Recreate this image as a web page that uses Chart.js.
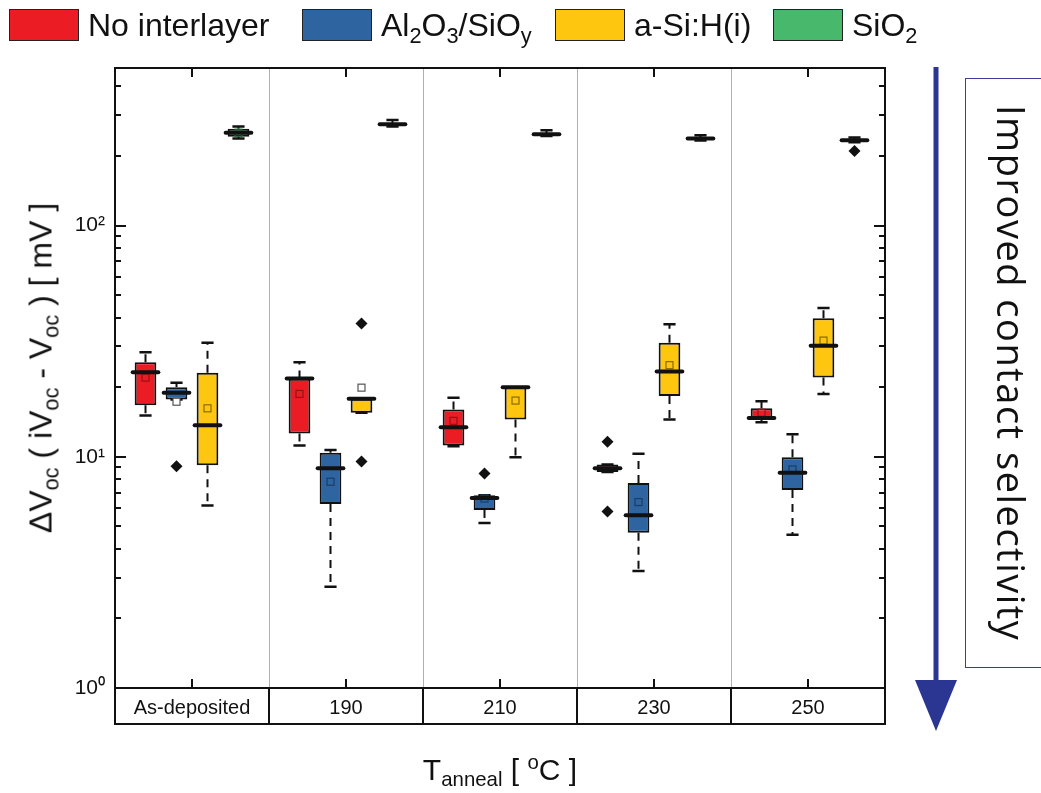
<!DOCTYPE html>
<html>
<head>
<meta charset="utf-8">
<script src="https://cdn.jsdelivr.net/npm/chart.js@4.4.1/dist/chart.umd.min.js"></script>
<style>
  html, body { margin: 0; padding: 0; background: #fff; }
  #wrap { position: relative; width: 1041px; height: 793px; overflow: hidden; font-family: 'Liberation Sans', Arial, sans-serif; color: #111; }
  #chart { position: absolute; left: 0; top: 0; }
  .item { position: absolute; top: 8px; display: flex; align-items: center; font-size: 32px; line-height: 34px; white-space: nowrap; }
  .sw { width: 70px; height: 32px; border: 1.5px solid #222; box-sizing: border-box; margin-right: 9px; flex: none; }
  sub, sup { font-size: 0.68em; line-height: 0; }
  sub { vertical-align: -0.3em; }
  sup { vertical-align: 0.55em; }
  #ytitle { position: absolute; left: 41px; top: 368px; font-size: 32px; white-space: nowrap; transform: translate(-50%, -50%) rotate(-90deg); }
  #xtitle { position: absolute; left: 500px; top: 770px; font-size: 30px; white-space: nowrap; transform: translate(-50%, -50%); }
  #note { position: absolute; left: 965px; top: 78px; width: 76px; height: 590px; box-sizing: border-box; border: 1.5px solid #3b3f9a; border-right: none;
          padding-left: 16px; writing-mode: vertical-rl; display: flex; align-items: center; justify-content: center;
          font-family: 'Open Sans', sans-serif; font-size: 38px; letter-spacing: 1.5px; color: #111; }
  #arrow { position: absolute; left: 0; top: 0; }
</style>
</head>
<body>
<div id="wrap">
  <canvas id="chart" width="1041" height="793"></canvas>
  <div class="item" style="left:9px"><div class="sw" style="background:#ec1c24"></div><span>No interlayer</span></div>
  <div class="item" style="left:302px"><div class="sw" style="background:#2e64a0"></div><span>Al<sub>2</sub>O<sub>3</sub>/SiO<sub>y</sub></span></div>
  <div class="item" style="left:555px"><div class="sw" style="background:#ffc60f"></div><span>a-Si:H(i)</span></div>
  <div class="item" style="left:773px"><div class="sw" style="background:#48b86c"></div><span>SiO<sub>2</sub></span></div>
  <div id="ytitle">&Delta;V<sub>oc</sub> ( iV<sub>oc</sub> - V<sub>oc</sub> ) [ mV ]</div>
  <div id="xtitle">T<sub>anneal</sub> [ <sup>o</sup>C ]</div>
  <svg id="arrow" width="1041" height="793">
    <line x1="936" y1="67" x2="936" y2="690" stroke="#2b3592" stroke-width="5"/>
    <polygon points="915,680 957,680 936,731" fill="#2b3592"/>
  </svg>
  <div id="note">Improved contact selectivity</div>
</div>
<script>
const groups = ['As-deposited', '190', '210', '230', '250'];
const seriesNames = ['No interlayer', 'Al2O3/SiOy', 'a-Si:H(i)', 'SiO2'];
const seriesColors = ['#ec1c24', '#2e64a0', '#ffc60f', '#48b86c'];
const meanColors = ['#9a1016', '#1b3d66', '#8a6a00', '#1f6a38'];

// rows: No interlayer, Al2O3/SiOy, a-Si:H(i), SiO2 ; columns follow groups
const whiskerLow = [
  [15.1, 11.2, 11.1, 8.6, 14.1],
  [17.7, 2.74, 5.17, 3.21, 4.6],
  [6.16, 15.5, 9.96, 14.5, 18.7],
  [238, 268, 244, 233, 229]
];
const q1 = [
  [16.7, 12.6, 11.2, 8.6, 14.6],
  [17.7, 6.24, 5.89, 4.69, 7.19],
  [9.18, 15.5, 14.5, 18.3, 22.0],
  [242, 270, 245, 235, 231]
];
const median = [
  [23.2, 21.8, 13.4, 8.93, 14.7],
  [18.9, 8.93, 6.63, 5.59, 8.53],
  [13.7, 17.8, 20.0, 23.4, 30.2],
  [252, 274, 248, 238, 234]
];
const q3 = [
  [25.6, 21.8, 16.0, 9.25, 16.2],
  [20.0, 10.4, 6.82, 7.71, 9.96],
  [23.1, 17.8, 20.0, 31.1, 39.7],
  [262, 277, 251, 241, 236]
];
const whiskerHigh = [
  [28.3, 25.6, 18.0, 9.25, 17.4],
  [20.9, 10.7, 6.82, 10.3, 12.5],
  [31.1, 17.8, 20.0, 37.4, 44.0],
  [268, 286, 258, 246, 240]
];
const means = [
  [22.0, 18.7, 14.3, null, 15.5],
  [17.3, 7.8, 6.6, 6.37, 8.81],
  [16.2, 19.9, 17.5, 24.9, 31.8],
  [252, null, null, null, null]
];
const outliers = [
  [[], [], [], [11.6, 5.8], []],
  [[9.1], [], [8.47], [], []],
  [[], [37.7, 9.53], [], [], []],
  [[], [], [], [], [210]]
];
const yLabels = { 1: '10\u2070', 10: '10\u00b9', 100: '10\u00b2' };

Chart.defaults.font.family = "'Liberation Sans', Arial, sans-serif";
Chart.defaults.color = '#111';

const boxPlugin = {
  id: 'boxParts',
  afterDatasetsDraw(chart) {
    const ctx = chart.ctx;
    const y = chart.scales.y;
    ctx.save();
    chart.data.datasets.forEach((ds, i) => {
      const meta = chart.getDatasetMeta(i);
      meta.data.forEach((bar, j) => {
        const x = bar.x;
        const w = bar.width;
        const yq1 = y.getPixelForValue(q1[i][j]);
        const yq3 = y.getPixelForValue(q3[i][j]);
        const ylo = y.getPixelForValue(whiskerLow[i][j]);
        const yhi = y.getPixelForValue(whiskerHigh[i][j]);
        // whiskers
        ctx.strokeStyle = '#111';
        ctx.lineWidth = 2;
        ctx.setLineDash([8, 6]);
        ctx.beginPath();
        ctx.moveTo(x, yq1); ctx.lineTo(x, ylo);
        ctx.moveTo(x, yq3); ctx.lineTo(x, yhi);
        ctx.stroke();
        ctx.setLineDash([]);
        ctx.lineWidth = 2.5;
        ctx.beginPath();
        ctx.moveTo(x - w * 0.28, ylo); ctx.lineTo(x + w * 0.28, ylo);
        ctx.moveTo(x - w * 0.28, yhi); ctx.lineTo(x + w * 0.28, yhi);
        ctx.stroke();
        // mean
        if (means[i][j] !== null) {
          const ym = y.getPixelForValue(means[i][j]);
          const inside = means[i][j] >= q1[i][j] && means[i][j] <= q3[i][j];
          ctx.lineWidth = 1.2;
          if (inside) {
            ctx.strokeStyle = meanColors[i];
            ctx.strokeRect(x - 3.5, ym - 3.5, 7, 7);
          } else {
            ctx.fillStyle = '#fff';
            ctx.strokeStyle = '#555';
            ctx.fillRect(x - 3.5, ym - 3.5, 7, 7);
            ctx.strokeRect(x - 3.5, ym - 3.5, 7, 7);
          }
        }
        // median
        const ymed = y.getPixelForValue(median[i][j]);
        ctx.strokeStyle = '#111';
        ctx.lineWidth = 4;
        ctx.lineCap = 'round';
        ctx.beginPath();
        ctx.moveTo(x - w / 2 - 2, ymed); ctx.lineTo(x + w / 2 + 2, ymed);
        ctx.stroke();
        ctx.lineCap = 'butt';
        // outliers
        ctx.fillStyle = '#111';
        outliers[i][j].forEach(v => {
          const yo = y.getPixelForValue(v);
          ctx.beginPath();
          ctx.moveTo(x, yo - 6); ctx.lineTo(x + 6, yo); ctx.lineTo(x, yo + 6); ctx.lineTo(x - 6, yo);
          ctx.closePath();
          ctx.fill();
        });
      });
    });
    ctx.restore();
  }
};

const framePlugin = {
  id: 'frame',
  beforeDatasetsDraw(chart) {
    const ctx = chart.ctx;
    const a = chart.chartArea;
    const x = chart.scales.x;
    ctx.save();
    ctx.strokeStyle = '#b0b0b0';
    ctx.lineWidth = 1;
    for (let k = 1; k < groups.length; k++) {
      const xd = Math.round((x.getPixelForValue(k - 1) + x.getPixelForValue(k)) / 2) + 0.5;
      ctx.beginPath(); ctx.moveTo(xd, a.top); ctx.lineTo(xd, a.bottom); ctx.stroke();
    }
    ctx.restore();
  },
  afterDraw(chart) {
    const ctx = chart.ctx;
    const a = chart.chartArea;
    const x = chart.scales.x;
    const y = chart.scales.y;
    const stripBottom = a.bottom + 36;
    ctx.save();
    ctx.strokeStyle = '#111';
    ctx.lineWidth = 2;
    ctx.strokeRect(a.left, a.top, a.right - a.left, stripBottom - a.top);
    ctx.beginPath();
    ctx.moveTo(a.left, a.bottom); ctx.lineTo(a.right, a.bottom);
    for (let k = 1; k < groups.length; k++) {
      const xd = Math.round((x.getPixelForValue(k - 1) + x.getPixelForValue(k)) / 2);
      ctx.moveTo(xd, a.bottom); ctx.lineTo(xd, stripBottom);
    }
    // group ticks on top and bottom edges
    for (let k = 0; k < groups.length; k++) {
      const xc = Math.round(x.getPixelForValue(k));
      ctx.moveTo(xc, a.top); ctx.lineTo(xc, a.top + 9);
      ctx.moveTo(xc, a.bottom); ctx.lineTo(xc, a.bottom - 9);
    }
    // log ticks on left and right edges
    for (let dec = 1; dec <= 100; dec *= 10) {
      for (let m = 1; m <= 9; m++) {
        const v = dec * m;
        if (v > y.max) break;
        if (v === 1) continue;
        const yy = Math.round(y.getPixelForValue(v));
        const len = m === 1 ? 11 : 6;
        ctx.moveTo(a.left, yy); ctx.lineTo(a.left + len, yy);
        ctx.moveTo(a.right, yy); ctx.lineTo(a.right - len, yy);
      }
    }
    ctx.stroke();
    ctx.restore();
  }
};

new Chart(document.getElementById('chart'), {
  type: 'bar',
  data: {
    labels: groups,
    datasets: seriesNames.map((name, i) => ({
      label: name,
      data: q1[i].map((v, j) => [v, q3[i][j]]),
      backgroundColor: seriesColors[i],
      borderColor: '#111',
      borderWidth: 2,
      borderSkipped: false,
      categoryPercentage: 0.805,
      barPercentage: 0.7
    }))
  },
  options: {
    responsive: false,
    animation: false,
    layout: { padding: { left: 0, right: 156, top: 68, bottom: 69 } },
    plugins: { legend: { display: false }, tooltip: { enabled: false } },
    scales: {
      x: {
        grid: { display: false, drawTicks: false },
        border: { display: false },
        ticks: { font: { size: 20 }, color: '#111', padding: 8, maxRotation: 0 },
        afterFit: s => { s.height = 36; }
      },
      y: {
        type: 'logarithmic',
        min: 1,
        max: 480,
        grid: { display: false, drawTicks: false },
        border: { display: false },
        afterBuildTicks: s => { s.ticks = [1, 10, 100].map(v => ({ value: v, major: true })); },
        ticks: {
          autoSkip: false,
          font: { size: 21 },
          color: '#111',
          padding: 10,
          callback: v => yLabels[v] || ''
        },
        afterFit: s => { s.width = 115; }
      }
    }
  },
  plugins: [framePlugin, boxPlugin]
});
</script>
</body>
</html>
